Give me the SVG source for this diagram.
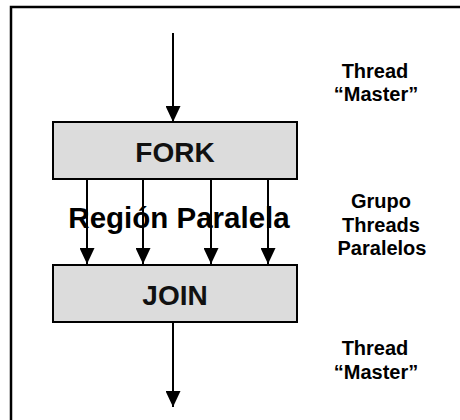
<svg xmlns="http://www.w3.org/2000/svg" width="460" height="420" viewBox="0 0 460 420">
  <defs>
    <marker id="arrow" viewBox="0 0 16 15" refX="16" refY="7.5" markerWidth="16" markerHeight="15" markerUnits="userSpaceOnUse" orient="auto">
      <path d="M0,0 L16,7.5 L0,15 Z" fill="#000"/>
    </marker>
    <style>
      .frame { fill: #fff; stroke: #000; stroke-width: 2.5; }
      .box { fill: #dcdcdc; stroke: #000; stroke-width: 2; }
      .big { font-family: "Liberation Sans", Arial, sans-serif; font-weight: bold; font-size: 28px; fill: #111; text-anchor: middle; }
      .region { font-family: "Liberation Sans", Arial, sans-serif; font-weight: bold; font-size: 29.5px; fill: #000; text-anchor: middle; }
      .note { font-family: "Liberation Sans", Arial, sans-serif; font-weight: bold; font-size: 20px; fill: #000; text-anchor: middle; }
      .edge { stroke: #000; stroke-width: 2; fill: none; marker-end: url(#arrow); }
    </style>
  </defs>

  <!-- outer frame -->
  <rect class="frame" x="11" y="7" width="460" height="420"/>

  <!-- connectors -->
  <g id="connectors">
    <line class="edge" x1="173" y1="33" x2="173" y2="122"/>
    <line class="edge" x1="87" y1="179" x2="87" y2="264"/>
    <line class="edge" x1="143" y1="179" x2="143" y2="264"/>
    <line class="edge" x1="211" y1="179" x2="211" y2="264"/>
    <line class="edge" x1="268" y1="179" x2="268" y2="264"/>
    <line class="edge" x1="173" y1="322" x2="173" y2="407"/>
  </g>

  <!-- fork node -->
  <g id="fork">
    <rect class="box" x="53" y="122" width="244" height="57"/>
    <text class="big" x="175" y="162">FORK</text>
  </g>

  <!-- join node -->
  <g id="join">
    <rect class="box" x="53" y="265" width="244" height="57"/>
    <text class="big" x="175" y="305">JOIN</text>
  </g>

  <!-- parallel region caption -->
  <g id="region">
    <text class="region" x="179" y="228">Región Paralela</text>
  </g>

  <!-- side notes -->
  <g id="master-top">
    <text class="note" x="375" y="78">Thread</text>
    <text class="note" x="376" y="100.5">“Master”</text>
  </g>
  <g id="group">
    <text class="note" x="381" y="208">Grupo</text>
    <text class="note" x="381" y="231.5">Threads</text>
    <text class="note" x="382" y="255">Paralelos</text>
  </g>
  <g id="master-bottom">
    <text class="note" x="375" y="355">Thread</text>
    <text class="note" x="376" y="378.5">“Master”</text>
  </g>
</svg>
